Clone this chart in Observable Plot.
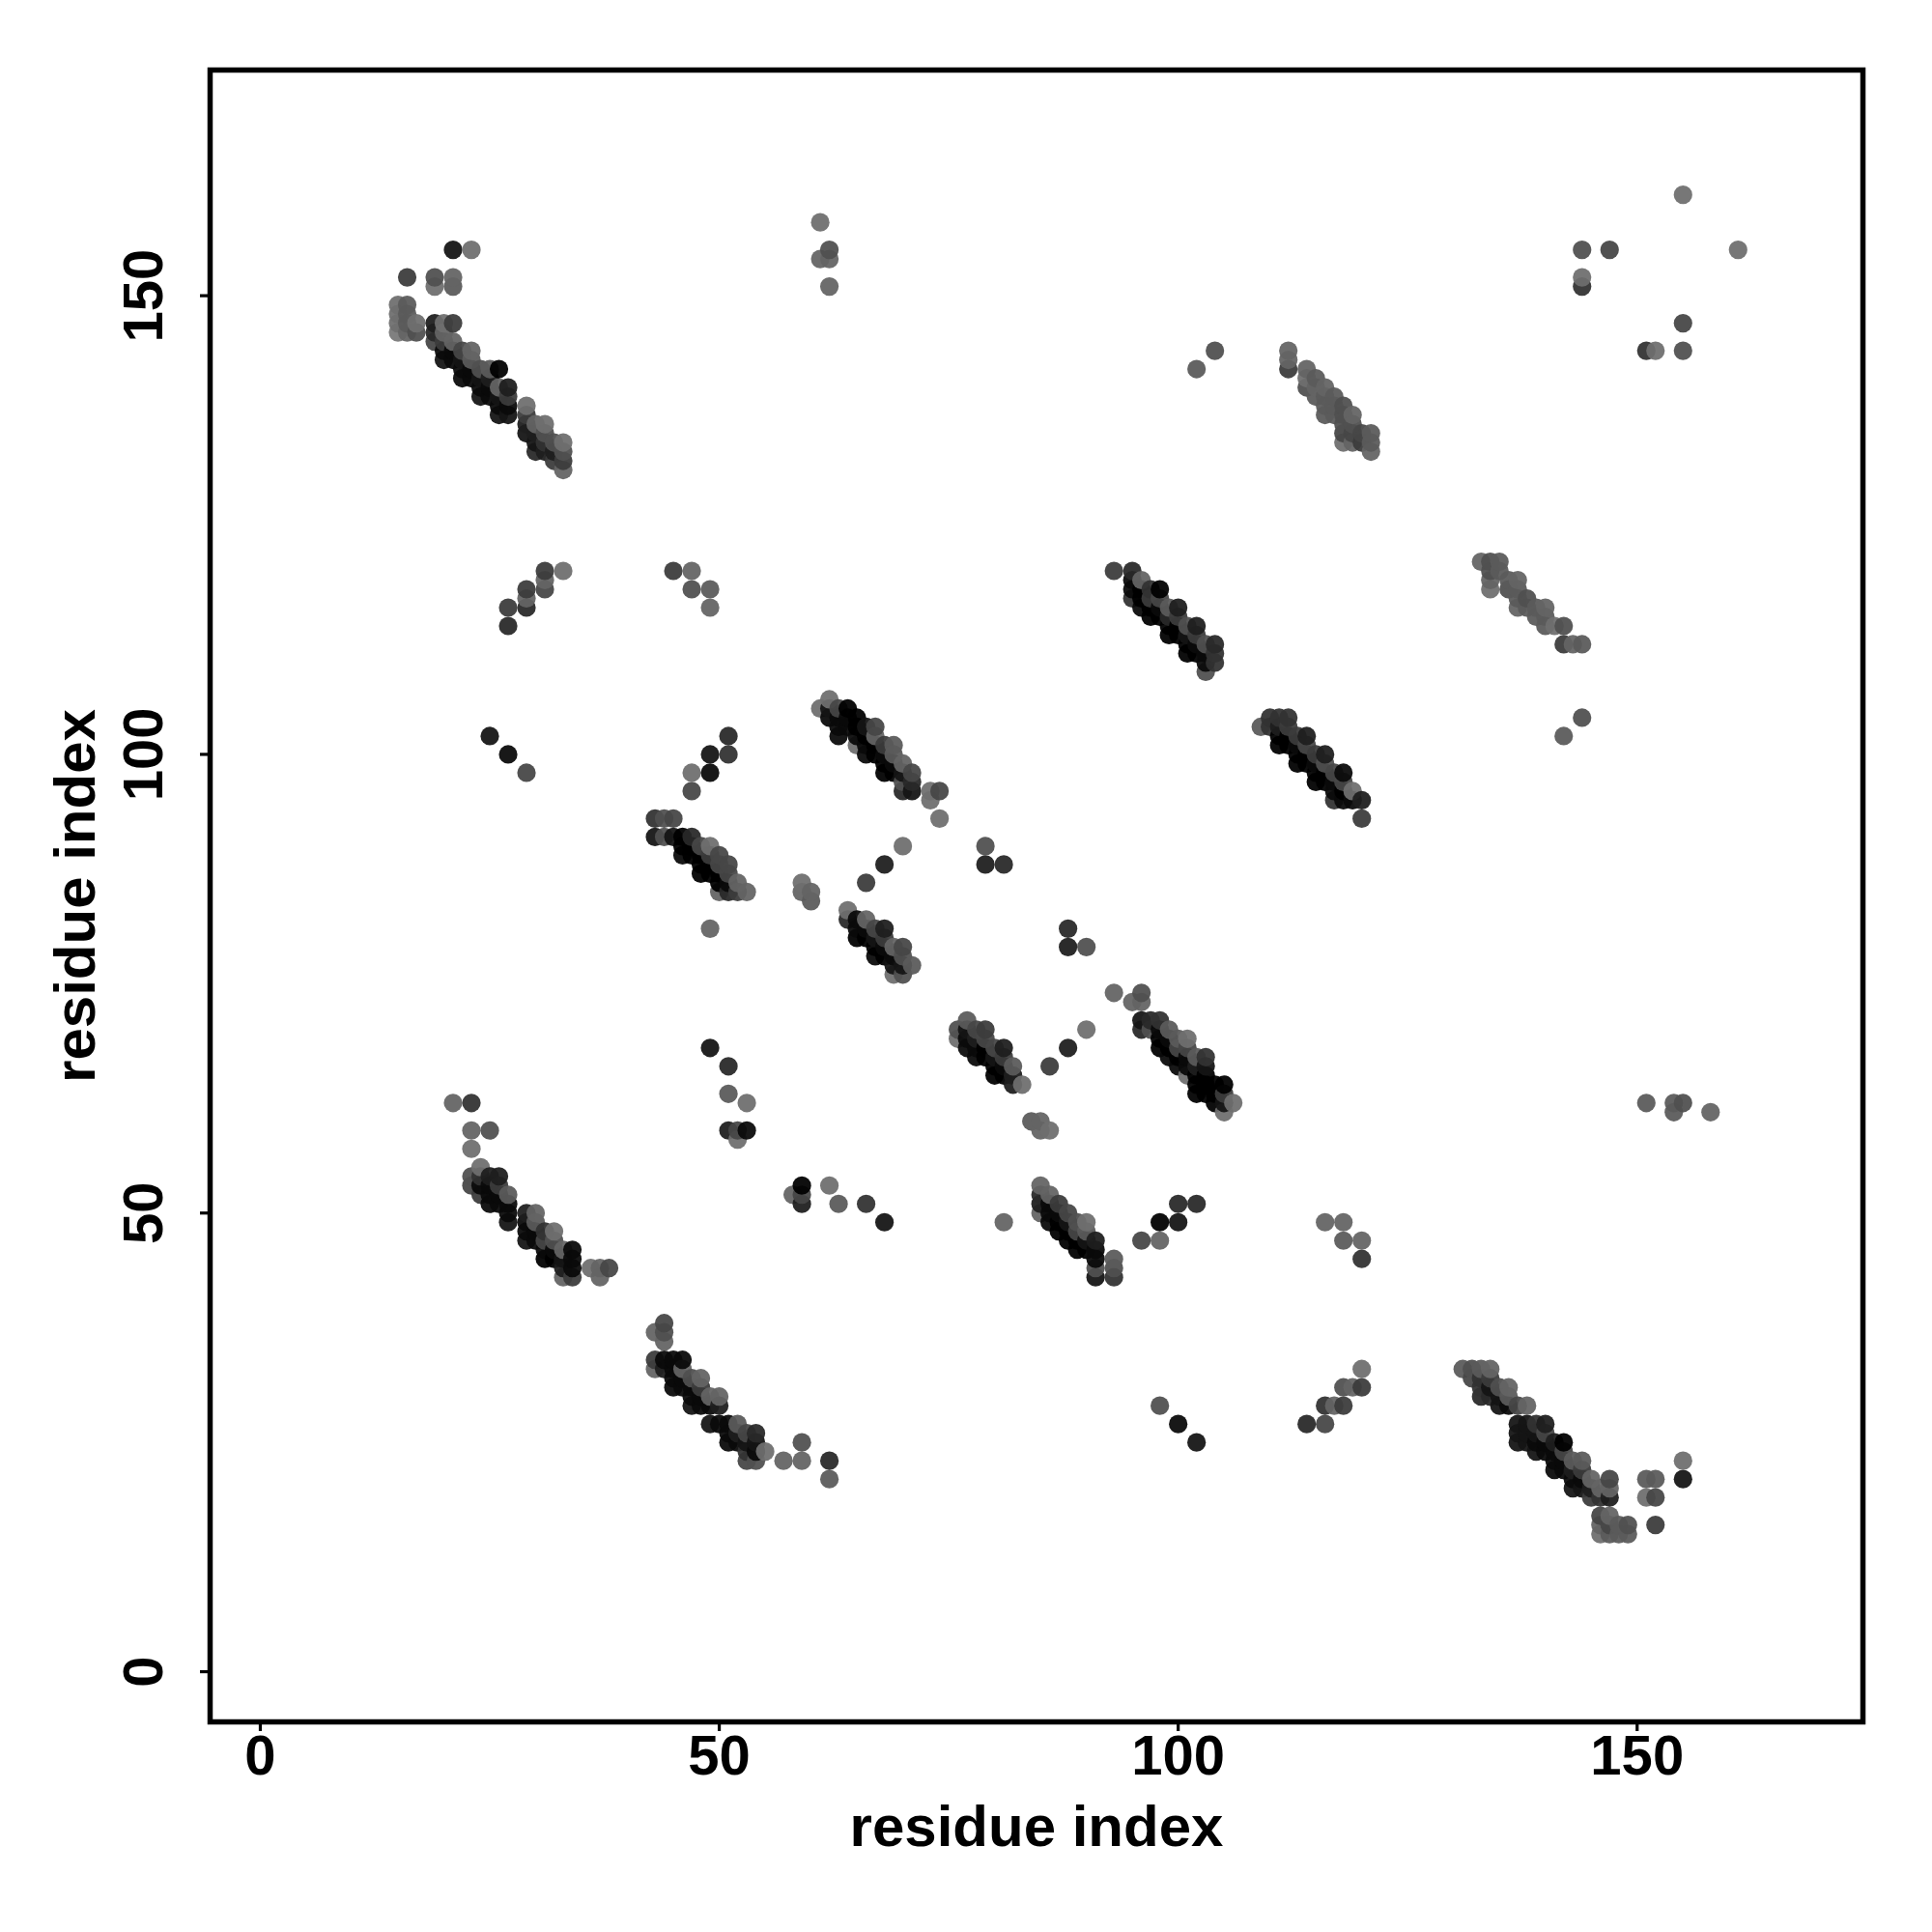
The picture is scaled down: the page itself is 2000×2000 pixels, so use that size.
<!DOCTYPE html>
<html>
<head>
<meta charset="utf-8">
<style>html,body{margin:0;padding:0;background:#fff}</style>
<script src="https://cdn.jsdelivr.net/npm/d3@7"></script>
<script src="https://cdn.jsdelivr.net/npm/@observablehq/plot@0.6"></script>
</head>
<body>
<script>
// Each row: residue i, then pairs of (residue j, darkness level 0-12)
const topLeft = [
  [15,149,11,148,11,147,11,146,12],[16,152,6,149,9,148,9,147,9,146,10],[17,147,11,146,8],
  [19,152,8,151,11,147,3,146,4,145,7],[20,147,11,146,10,145,6,144,1,143,2],
  [21,155,2,152,10,151,9,147,6,145,10,144,1,143,1],[22,144,7,143,2,142,1,141,1],
  [23,155,11,144,10,143,9,142,1,141,1],[24,142,8,141,2,140,1,139,2],[25,142,9,141,3,140,1,139,1],
  [26,142,0,140,10,139,2,138,1,137,2],[27,140,3,139,6,138,1,137,2],
  [29,138,11,137,6,136,3,135,2],[30,136,10,135,3,134,2,133,4],[31,136,11,135,8,134,5,133,3],
  [32,134,8,133,3,132,6],[33,134,11,133,8,132,6,131,10]
];
const topMiddle = [[61,158,11,154,10],[62,155,8,154,10,151,10],[102,142,9],[104,144,8]];
const upperRightBand = [
  [112,144,10,143,10,142,6],[114,142,10,141,11,140,8],[115,141,9,140,10,139,9],
  [116,140,10,139,9,138,9,137,9],[117,139,9,138,9,137,9],[118,138,8,137,8,136,8,135,7,134,11],
  [119,137,10,136,8,135,7,134,10],[120,135,7,134,6],[121,135,9,134,9,133,10]
];
const topRight = [
  [144,155,8,152,11,151,5],[147,155,7],[151,144,5],[152,144,11],
  [155,161,11,147,7,144,8],[161,155,11]
];
const row120Group = [
  [27,116,6,114,4],[29,118,6,117,10,116,4],[31,120,6,119,10,118,7],[33,120,11],
  [45,120,6],[47,120,10,118,8],[49,118,9,116,10],
  [25,102,2],[27,100,1],[29,98,7],
  [47,98,11,96,7],[49,100,2,98,1],[51,102,4,100,5]
];
const band105 = [
  [61,105,11],[62,106,11,105,2,104,1],[63,105,7,104,1,103,1,102,1],[64,105,0,104,1,103,1],
  [65,104,0,103,0,102,1,101,11],[66,103,2,102,0,101,1,100,1],[67,103,7,102,10,101,0,100,0],
  [68,101,6,100,1,99,0,98,0],[69,101,9,100,9,99,1,98,0],[70,99,10,98,2,97,8,96,4],
  [71,98,7,97,4,96,2],[73,96,11,95,11],[74,96,7,93,11],[70,90,11],[68,88,3],[66,86,6]
];
const band91 = [
  [43,93,5,91,2],[44,93,8,91,8],[45,93,7,91,2],[46,91,0,90,0,89,1],[47,91,4,90,0,89,0],
  [48,90,7,89,0,88,0,87,0],[49,90,11,89,6,88,0,87,0,81,10],[50,89,7,88,7,87,0,86,0,85,10],
  [51,88,7,87,7,86,1,85,4],[52,86,10,85,6],[53,85,10],[59,86,11,85,10],[60,85,10,84,9]
];
const band83 = [
  [64,83,11,82,4],[65,82,1,81,1,80,0],[66,82,10,81,1,80,0],[67,81,7,80,2,79,0,78,1],
  [68,81,3,80,6,79,1,78,0],[69,79,10,78,1,77,2,76,11],[70,79,7,78,8,77,2,76,8],[71,77,9]
];
const band54 = [
  [21,62,10],[23,62,5,59,10,57,11,54,8,53,7],[24,55,11,54,5,53,1,52,6],[25,59,8,54,3,53,1,52,1,51,1],
  [26,54,3,53,6,52,1,51,1],[27,52,9,51,1,50,1,49,2],[29,50,3,49,1,48,1,47,2],
  [30,50,10,49,9,48,1,47,1],[31,48,5,47,7,46,1,45,0],[32,48,11,47,8,46,1,45,0],
  [33,46,10,45,2,44,3,43,10],[34,46,1,45,1,44,1,43,6],[36,44,11],[37,44,10,43,10],[38,44,7]
];
const middleScatter = [
  [49,68,2],[51,66,4,63,9,59,3],[52,59,7,58,11],[53,62,11,59,1],
  [58,52,10],[59,53,0,52,7,51,3],[62,53,11],[63,51,9],[66,51,5],[68,49,2],
  [79,90,8,88,3],[81,88,4,49,10],[88,81,4,79,3,68,3],[90,79,8,70,11],[86,66,6],
  [93,74,10],[95,73,10],[96,74,8,73,10],[84,60,9],[85,60,10,59,10],[86,59,11]
];
const band120 = [
  [93,120,6],[95,120,4,119,1,118,1,117,5],[96,119,10,118,0,117,0,116,1],[97,118,5,117,6,116,0,115,0],
  [98,118,0,117,7,116,1,115,0],[99,116,9,115,4,114,0,113,0],[100,116,3,115,6,114,0,113,0],
  [101,114,8,113,2,112,0,111,0],[102,114,3,113,6,112,1,111,0],[103,112,8,111,1,110,1,109,8],
  [104,112,4,111,5,110,5]
];
const band103 = [
  [109,103,9],[110,104,5,103,5],[111,104,5,103,3,102,0,101,0],[112,104,5,103,6,102,0,101,0],
  [113,102,6,101,1,100,0,99,0],[114,102,3,101,7,100,0,99,0],[115,100,6,99,1,98,0,97,0],
  [116,100,3,99,8,98,0,97,0],[117,98,7,97,1,96,1,95,5],[118,98,1,97,7,96,0,95,1],
  [119,96,11,95,1],[120,95,3,93,6]
];
const band118 = [
  [133,121,10],[134,121,8,120,8,119,10,118,11],[135,121,9,120,9],[136,119,9,118,8],
  [137,119,10,118,9,117,9,116,10],[138,117,8,116,9],[139,116,9,115,9],[140,116,10,115,9,114,9],
  [141,114,11],[142,114,8,112,6,102,9],[143,112,10],[144,112,9,104,8]
];
const band70 = [
  [76,70,8,69,11],[77,71,9,70,2,69,1,68,1],[78,70,7,69,3,68,1,67,1],[79,70,6,69,7,68,0,67,0],
  [80,68,7,67,2,66,0,65,0],[81,68,3,67,6,66,1,65,0],[82,66,9,65,3,64,3],[83,64,11]
];
const band65 = [
  [96,71,2,70,4],[97,71,4,70,8],[98,71,5,70,1,69,0,68,0],[99,70,9,69,1,68,0,67,1],
  [100,69,9,68,7,67,0,66,1],[101,69,11,68,7,67,1,66,1,65,11],[102,67,9,66,3,65,0,64,0,63,0],
  [103,67,5,66,2,65,0,64,0,63,0],[104,64,0,63,0,62,0],[105,64,0,63,6,62,2,61,11],[106,62,11]
];
const band50 = [
  [85,53,10,52,4,51,3,50,10],[86,52,10,51,1,50,1,49,1],[87,51,6,50,1,49,0,48,0],
  [88,50,7,49,2,48,0,47,0],[89,49,8,48,7,47,0,46,0],[90,49,11,48,9,47,2,46,0],
  [91,47,3,46,1,45,1,44,8,43,2],[93,45,9,44,8,43,5],
  [96,47,7],[98,49,0,47,10],[100,51,4,49,2],[102,51,4],
  [116,49,10],[118,49,10,47,9],[120,47,10,45,5],
  [151,62,9],[154,62,9,61,9],[155,62,8],[158,61,10]
];
const band30 = [
  [43,37,10,34,6,33,10],[44,38,7,37,8,36,10,34,1,33,3],[45,34,1,33,1,32,1,31,1],
  [46,34,1,33,10,32,1,31,1],[47,32,8,31,1,30,1,29,2],[48,32,10,31,6,30,1,29,1],
  [49,30,10,29,1,27,2],[50,30,10,29,3,27,1],[51,27,1,26,1,25,1],[52,27,9,26,3,25,1],
  [53,26,7,25,2,24,5,23,7],[54,26,4,25,2,24,1,23,8],[55,24,11],
  [57,23,10],[59,25,8,23,10],[62,23,4,21,9]
];
const lowerScatter = [
  [98,29,8],[100,27,1],[102,25,2],[114,27,4],[116,29,5,27,7],[117,29,10],
  [118,31,8,29,6],[119,31,10],[120,33,11,31,6]
];
const band25 = [
  [131,33,9],[132,33,8,32,7],[133,33,9,32,5,31,5,30,4],[134,33,10,32,6,31,2,30,4],
  [135,31,8,30,2,29,2],[136,31,10,30,9,29,1],[137,29,7,27,2,26,2,25,2],[138,29,10,27,2,26,2,25,2],
  [139,27,5,26,2,25,1,24,2],[140,27,3,26,7,25,1,24,1],[141,25,3,24,1,23,1,22,1],[142,25,0,24,7,23,1,22,1],
  [143,23,9,22,3,21,1,20,2],[144,23,9,22,6,21,1,20,2],[145,21,10,20,3,19,6],
  [146,20,10,19,5,17,7,16,10,15,11],[147,21,7,20,10,19,3,17,10,16,7,15,9],
  [148,16,9,15,9],[149,16,8,15,9],
  [151,21,9,19,11],[152,21,9,19,7,16,6],[155,23,11,21,2]
];

const xTicks = [0, 50, 100, 150];
const yTicks = [0, 50, 100, 150];
const axisTitle = "residue index";

const contacts = [topLeft, topMiddle, upperRightBand, topRight, row120Group, band105, band91, band83,
  band54, middleScatter, band120, band103, band118, band70, band65, band50, band30, lowerScatter, band25]
  .flat()
  .flatMap(([i, ...rest]) => d3.range(0, rest.length, 2).map(k => ({i, j: rest[k], level: rest[k + 1]})));
const ordered = d3.sort(contacts, d => d.i, d => d.j);

const chart = Plot.plot({
  width: 2000,
  height: 2000,
  marginLeft: 217,
  marginRight: 72,
  marginTop: 72,
  marginBottom: 218,
  style: {fontFamily: "'Liberation Sans', sans-serif", fontWeight: "bold", fontSize: "58px", background: "#fff", color: "#000"},
  x: {domain: [-5.47, 174.6], ticks: xTicks, label: null},
  y: {domain: [-5.47, 174.6], ticks: yTicks, label: null},
  color: {type: "linear", domain: [0, 12], range: ["#000000", "#787878"]},
  marks: [
    Plot.dot(ordered, {x: "i", y: "j", r: 9.6, fill: "level", fillOpacity: 0.94, stroke: "none"}),
    Plot.frame({stroke: "#000", strokeWidth: 5.5}),
    Plot.axisX({ticks: xTicks, tickSize: 10, strokeWidth: 3.2, tickPadding: 3, label: null}),
    Plot.axisY({ticks: yTicks, tickSize: 10, strokeWidth: 3.2, tickRotate: -90, tickPadding: 40, label: null}),
    Plot.text([axisTitle], {frameAnchor: "bottom", dy: 128, fontSize: 60, fontWeight: "bold"}),
    Plot.text([axisTitle], {frameAnchor: "left", textAnchor: "middle", dx: -139, rotate: -90, fontSize: 60, fontWeight: "bold"})
  ]
});
document.body.appendChild(chart);
</script>
</body>
</html>
